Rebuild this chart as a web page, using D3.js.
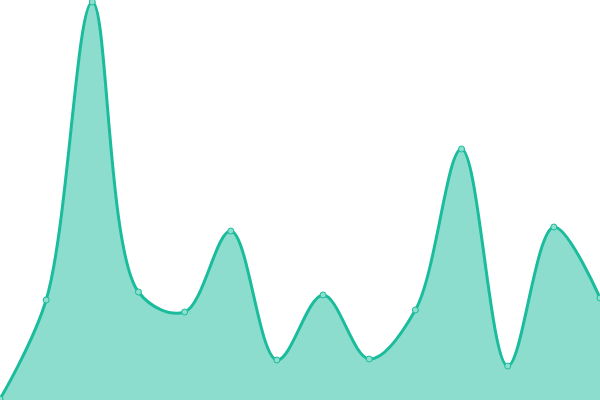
<!DOCTYPE html>
<html>
<head>
<meta charset="utf-8">
<script src="https://cdn.jsdelivr.net/npm/d3@7"></script>
<style>
  body { margin: 0; background: #fff; }
  svg { display: block; }
</style>
</head>
<body>
<svg id="chart" width="600" height="400"></svg>
<script>
let labels = d3.range(14),
    values = [1, 100, 398, 108, 88, 169, 40, 105, 41, 90, 251, 34, 173, 102];

let svg = d3.select("#chart"),
    width = +svg.attr("width"),
    height = +svg.attr("height");

let x = d3.scaleLinear()
    .domain([0, labels.length - 1])
    .range([0, width]);

let y = d3.scaleLinear()
    .domain([0, 400])
    .range([height, 0]);

let area = d3.area()
    .x(function(d, i) { return x(i); })
    .y0(height)
    .y1(function(d) { return y(d); })
    .curve(d3.curveCatmullRom.alpha(0.5));

let line = area.lineY1();

svg.append("path")
    .datum(values)
    .attr("d", area)
    .attr("fill", "#1abc9c")
    .attr("fill-opacity", 0.5);

svg.append("path")
    .datum(values)
    .attr("d", line)
    .attr("fill", "none")
    .attr("stroke", "#1abc9c")
    .attr("stroke-width", 3);

svg.selectAll("circle")
  .data(values)
  .enter().append("circle")
    .attr("cx", function(d, i) { return x(i); })
    .attr("cy", function(d) { return y(d); })
    .attr("r", 3)
    .attr("fill", "#8ddecd")
    .attr("stroke", "#1abc9c")
    .attr("stroke-width", 1);
</script>
</body>
</html>
